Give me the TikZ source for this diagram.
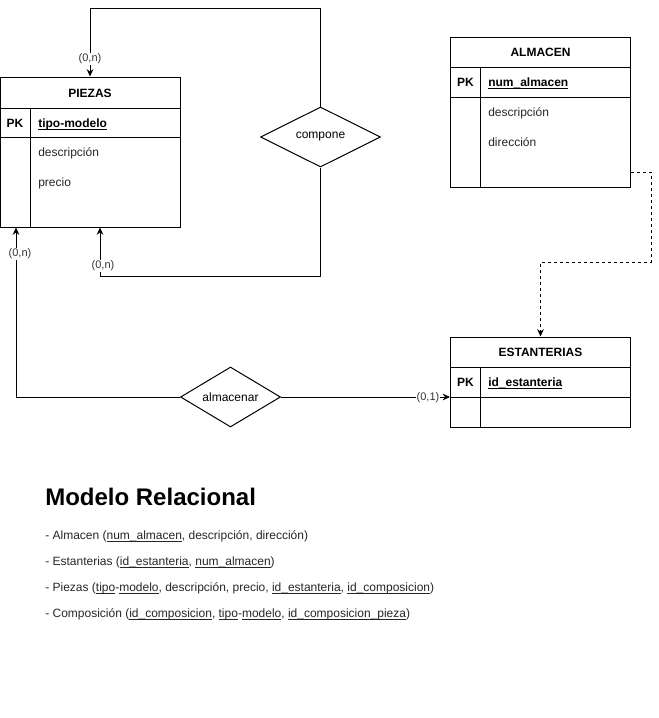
\documentclass[tikz,border=0pt]{standalone}
\usepackage{fontspec}
\setmainfont{Liberation Sans}
\usetikzlibrary{arrows.meta,shapes.geometric,calc}
\newcommand\ulx[1]{\underline{\smash{#1}}}
\tikzset{
  tbl/.style={draw, line width=0.75pt, inner sep=0pt, minimum width=135pt},
  rel/.style={draw, diamond, aspect=2, line width=0.75pt, inner sep=0pt, font=\fontsize{9}{11}\selectfont},
  conn/.style={line width=0.75pt, -{Stealth[length=5.5pt,width=5pt]}},
  dconn/.style={conn, dash pattern=on 2.25pt off 2.25pt},
  card/.style={fill=white, inner sep=0.5pt, font=\fontsize{8.25}{10}\selectfont, text=black!80},
  hdr/.style={anchor=base, inner sep=0pt, font=\fontsize{9}{11}\selectfont\bfseries},
  attr/.style={anchor=base west, inner sep=0pt, font=\fontsize{9}{11}\selectfont, text=black!85},
  keyattr/.style={anchor=base west, inner sep=0pt, font=\fontsize{9}{11}\selectfont\bfseries},
  relline/.style={anchor=base west, inner sep=0pt, font=\fontsize{9}{11}\selectfont, text=black!85},
}
\begin{document}
\begin{tikzpicture}[x=0.75pt,y=-0.75pt]
\useasboundingbox (0,0) rectangle (659,718);
% PIEZAS
\node[tbl, minimum height=112.5pt] (piezas) at (90,152) {};
\draw[line width=0.75pt] (0,108) -- (180,108) (0,137) -- (180,137) (30,108) -- (30,227);
\node[hdr] (pzh) at (90,97) {PIEZAS};
\node[hdr] (pzpk) at (15,127) {PK};
\node[keyattr] (pzk) at (38,127) {\ulx{tipo-modelo}};
\node[attr] (pza1) at (38,156.5) {descripción};
\node[attr] (pza2) at (38,186.5) {precio};
% ALMACEN
\node[tbl, minimum height=112.5pt] (almacen) at (540.5,112) {};
\draw[line width=0.75pt] (450.5,67) -- (630.5,67) (450.5,97) -- (630.5,97) (480.5,67) -- (480.5,187);
\node[hdr] (alh) at (540.5,56.5) {ALMACEN};
\node[hdr] (alpk) at (465.5,86.5) {PK};
\node[keyattr] (alk) at (488,86.5) {\ulx{num\_almacen}};
\node[attr] (ala1) at (488,116) {descripción};
\node[attr] (ala2) at (488,146) {dirección};
% ESTANTERIAS
\node[tbl, minimum height=67.5pt] (estanterias) at (540.5,382) {};
\draw[line width=0.75pt] (450.5,367) -- (630.5,367) (450.5,397.5) -- (630.5,397.5) (480.5,367) -- (480.5,427);
\node[hdr] (esh) at (540.5,356.5) {ESTANTERIAS};
\node[hdr] (espk) at (465.5,386.5) {PK};
\node[keyattr] (esk) at (488,386.5) {\ulx{id\_estanteria}};
% relationships
\node[rel, minimum width=90pt, minimum height=45pt] (compone) at (320.5,137) {compone};
\node[rel, minimum width=75pt, minimum height=45pt] (almacenar) at (230.5,397) {almacenar};
% connectors
\coordinate (ct) at (90,8);
\coordinate (cb) at (320.5,276);
\coordinate (ab) at (16,397);
\coordinate (d1) at (651,172);
\coordinate (d2) at (651,262);
\coordinate (d3) at (540.5,262);
\draw[conn] (compone.north) |- (ct) -- (piezas.north);
\draw[conn] (compone.south) -- (cb) -| ([xshift=7.5pt]piezas.south);
\draw[conn] (almacenar.west) -- (ab) -- ([xshift=-55.5pt]piezas.south);
\draw[conn] (almacenar.east) -- ([yshift=-11.25pt]estanterias.west);
\draw[dconn] ([yshift=-45pt]almacen.east) -- (d1) -- (d2) -- (d3) -- (estanterias.north);
% cardinalities
\node[card] (k1) at (90,59) {(0,n)};
\node[card] (k2) at (103,266) {(0,n)};
\node[card] (k3) at (20,254) {(0,n)};
\node[card] (k4) at (428,398) {(0,1)};
% relational model
\node[anchor=base west, inner sep=0pt, font=\fontsize{18}{22}\selectfont\bfseries] (title) at (45,505) {Modelo Relacional};
\node[relline] (r1) at (45,539) {- Almacen (\ulx{num\_almacen}, descripción, dirección)};
\node[relline] (r2) at (45,565) {- Estanterias (\ulx{id\_estanteria}, \ulx{num\_almacen})};
\node[relline] (r3) at (45,591) {- Piezas (\ulx{tipo}-\ulx{modelo}, descripción, precio, \ulx{id\_estanteria}, \ulx{id\_composicion})};
\node[relline] (r4) at (45,617) {- Composición (\ulx{id\_composicion}, \ulx{tipo}-\ulx{modelo}, \ulx{id\_composicion\_pieza})};
\end{tikzpicture}
\end{document}
